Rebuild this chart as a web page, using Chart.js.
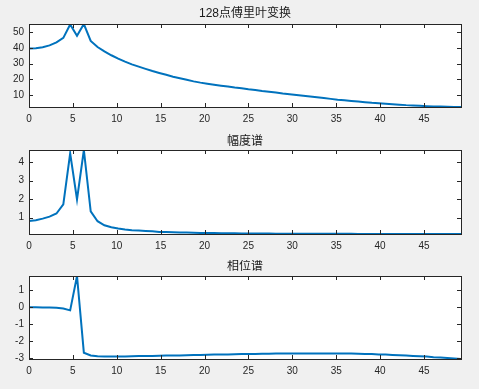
<!DOCTYPE html>
<html>
<head>
<meta charset="utf-8">
<script src="https://cdn.jsdelivr.net/npm/chart.js@4"></script>
<style>
  html, body { margin: 0; padding: 0; background: #f0f0f0; }
  #fig { position: relative; width: 479px; height: 389px; overflow: hidden; }
  #fig canvas { position: absolute; left: 0; }
</style>
</head>
<body>
<div id="fig">
  <canvas id="c1" width="479" height="130" style="top:0px"></canvas>
  <canvas id="c2" width="479" height="130" style="top:130px"></canvas>
  <canvas id="c3" width="479" height="129" style="top:260px"></canvas>
</div>
<script>
// frequency axis (Hz), 64 bins
const freq = [0, 0.78, 1.56, 2.34, 3.13, 3.91, 4.69, 5.47, 6.25, 7.03, 7.81, 8.59, 9.38, 10.16, 10.94, 11.72,
  12.5, 13.28, 14.06, 14.84, 15.63, 16.41, 17.19, 17.97, 18.75, 19.53, 20.31, 21.09, 21.88, 22.66, 23.44, 24.22,
  25, 25.78, 26.56, 27.34, 28.13, 28.91, 29.69, 30.47, 31.25, 32.03, 32.81, 33.59, 34.38, 35.16, 35.94, 36.72,
  37.5, 38.28, 39.06, 39.84, 40.63, 41.41, 42.19, 42.97, 43.75, 44.53, 45.31, 46.09, 46.88, 47.66, 48.44, 49.22]

// |FFT| (128 points)
const fftAbs = [39.6, 39.8, 40.4, 41.6, 43.5, 46.4, 55.0, 47.8, 55.3, 44.5, 40.6, 37.8, 35.3, 33.1, 31.2, 29.5,
  28.0, 26.6, 25.2, 24.0, 22.8, 21.6, 20.6, 19.6, 18.6, 17.8, 17.1, 16.45, 15.85, 15.3, 14.7, 14.2,
  13.6, 13.1, 12.5, 12.0, 11.5, 10.9, 10.4, 9.9, 9.4, 8.9, 8.4, 7.9, 7.4, 6.9, 6.5, 6.1,
  5.7, 5.3, 4.9, 4.6, 4.3, 4.0, 3.7, 3.4, 3.2, 2.95, 2.75, 2.6, 2.45, 2.35, 2.25, 2.2]

// 幅度谱
const ampSpec = [0.815, 0.85, 0.94, 1.05, 1.22, 1.71, 4.49, 1.98, 4.67, 1.34, 0.80, 0.58, 0.47, 0.40, 0.35, 0.31,
  0.29, 0.27, 0.25, 0.22, 0.21, 0.20, 0.19, 0.18, 0.17, 0.165, 0.16, 0.155, 0.15, 0.145, 0.14, 0.135,
  0.13, 0.13, 0.128, 0.126, 0.124, 0.122, 0.12, 0.12, 0.118, 0.117, 0.116, 0.115, 0.114, 0.113, 0.112, 0.112,
  0.111, 0.111, 0.11, 0.11, 0.109, 0.109, 0.108, 0.108, 0.107, 0.107, 0.106, 0.106, 0.106, 0.105, 0.105, 0.105]

// 相位谱
const phaseSpec = [0, 0, -0.005, -0.015, -0.03, -0.07, -0.18, 1.84, -2.67, -2.83, -2.88, -2.9, -2.9, -2.9, -2.89, -2.88,
  -2.87, -2.87, -2.86, -2.85, -2.84, -2.83, -2.83, -2.82, -2.81, -2.80, -2.79, -2.78, -2.77, -2.77, -2.76, -2.75,
  -2.75, -2.74, -2.73, -2.73, -2.72, -2.72, -2.71, -2.71, -2.71, -2.71, -2.71, -2.71, -2.71, -2.71, -2.72, -2.72,
  -2.73, -2.74, -2.75, -2.77, -2.78, -2.80, -2.82, -2.84, -2.86, -2.88, -2.90, -2.93, -2.95, -2.98, -3.01, -3.04]

const titles = ['128点傅里叶变换', '幅度谱', '相位谱']

const axisColor = '#262626'
const lineColor = '#0072BD'
const tickFont = { family: '"Liberation Sans", Arial, sans-serif', size: 10 }

// white axes background + box with inward ticks (MATLAB look)
const boxPlugin = {
  id: 'matlabBox',
  beforeDraw(chart) {
    const { ctx, chartArea: a } = chart
    ctx.save()
    ctx.fillStyle = '#ffffff'
    ctx.fillRect(a.left, a.top, a.right - a.left, a.bottom - a.top)
    ctx.restore()
  },
  afterDraw(chart) {
    const { ctx, chartArea: a } = chart
    const xs = chart.scales.x
    const ys = chart.scales.y
    const len = 4
    ctx.save()
    ctx.strokeStyle = axisColor
    ctx.lineWidth = 1
    ctx.beginPath()
    xs.ticks.forEach(t => {
      const px = Math.round(xs.getPixelForValue(t.value)) + 0.5
      ctx.moveTo(px, a.bottom); ctx.lineTo(px, a.bottom - len)
      ctx.moveTo(px, a.top); ctx.lineTo(px, a.top + len)
    })
    ys.ticks.forEach(t => {
      const py = Math.round(ys.getPixelForValue(t.value)) + 0.5
      ctx.moveTo(a.left, py); ctx.lineTo(a.left + len, py)
      ctx.moveTo(a.right, py); ctx.lineTo(a.right - len, py)
    })
    ctx.stroke()
    ctx.strokeRect(Math.round(a.left) + 0.5, Math.round(a.top) + 0.5,
      Math.round(a.right - a.left), Math.round(a.bottom - a.top))
    ctx.restore()
  }
}

function makeChart(id, values, title, opts) {
  const canvas = document.getElementById(id)
  return new Chart(canvas, {
    type: 'line',
    data: {
      datasets: [{
        data: values.map((v, i) => ({ x: freq[i], y: v })),
        borderColor: lineColor,
        borderWidth: 2,
        pointRadius: 0,
        tension: 0,
        fill: false
      }]
    },
    options: {
      responsive: false,
      animation: false,
      layout: { padding: { left: 0, right: 18, top: 0, bottom: 0 } },
      scales: {
        x: {
          type: 'linear',
          min: 0,
          max: 49.22,
          grid: { display: false, drawTicks: false },
          border: { display: false },
          ticks: { stepSize: 5, includeBounds: false, color: axisColor, font: tickFont, padding: 6, maxRotation: 0 },
          afterFit: s => { s.height = opts.xh }
        },
        y: {
          min: opts.ymin,
          max: opts.ymax,
          grid: { display: false, drawTicks: false },
          border: { display: false },
          ticks: { stepSize: opts.step, includeBounds: false, color: axisColor, font: tickFont, padding: 5 },
          afterFit: s => { s.width = 29 }
        }
      },
      plugins: {
        legend: { display: false },
        tooltip: { enabled: false },
        title: {
          display: true,
          text: title,
          fullSize: false,
          color: '#1a1a1a',
          font: { family: '"Liberation Sans", "Noto Sans CJK SC", sans-serif', size: 12, weight: 'normal', lineHeight: 1 },
          padding: opts.titlePad
        }
      }
    },
    plugins: [boxPlugin]
  })
}

makeChart('c1', fftAbs, titles[0], { ymin: 2.2, ymax: 55.3, step: 10, xh: 23, titlePad: { top: 8, bottom: 4 } })
makeChart('c2', ampSpec, titles[1], { ymin: 0.105, ymax: 4.67, step: 1, xh: 26, titlePad: { top: 6, bottom: 2 } })
makeChart('c3', phaseSpec, titles[2], { ymin: -3.04, ymax: 1.84, step: 1, xh: 30, titlePad: { top: 1, bottom: 3 } })
</script>
</body>
</html>
